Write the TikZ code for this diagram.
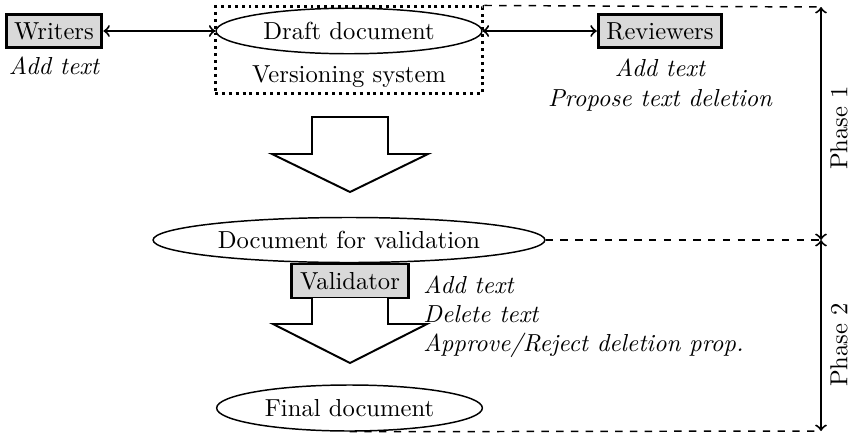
\documentclass[tikz,border=0pt]{standalone}
\usetikzlibrary{shapes.geometric}
\begin{document}
\begin{tikzpicture}[x=0.4065pt,y=-0.4065pt,
  actor/.style={draw,very thick,fill=gray!30,inner sep=3.33pt},
  doc/.style={draw,semithick,ellipse,inner sep=0pt},
  note/.style={font=\itshape,anchor=base,inner sep=0pt},
  link/.style={thick,<->},
  phase/.style={thick,<->},
  guide/.style={dashed,semithick},
  bigarrow/.style={thick,fill=white,line join=miter}]
\useasboundingbox (0,0) rectangle (850,434);

% Phase 1
\node[actor] (writers) at (54,31) {Writers};
\node[note] (wnote) at (54,74) {Add text};
\node[doc,minimum width=108.1pt,minimum height=18.5pt] (draft) at (349,31) {Draft document};
\node[anchor=base,inner sep=0pt] (vers) at (349,82) {Versioning system};
\node[draw,line width=1.2pt,dash pattern=on 1.2pt off 1.6pt,minimum width=108.9pt,minimum height=35pt,inner sep=0pt] (sys) at (349,50) {};
\node[actor] (reviewers) at (660,31) {Reviewers};
\node[note] (r1) at (660,76) {Add text};
\node[note] (r2) at (660,106) {Propose text deletion};

\coordinate (p1) at (821,7);
\coordinate (pm) at (821,240);
\coordinate (p2) at (821,431);

\draw[link] (writers.east) -- (draft.west);
\draw[link] (draft.east) -- (reviewers.west);

\draw[guide] (sys.north east) -- (p1);
\draw[phase] (p1) -- (pm);
\draw[phase] (pm) -- (p2);
\node[rotate=90] (ph1) at (839,128) {Phase 1};
\node[rotate=90] (ph2) at (839,345) {Phase 2};

\draw[bigarrow] (312,117) -- (388,117) -- (388,154) -- (428,154) -- (350,192) -- (272,154) -- (312,154) -- cycle;

% Phase 2
\node[doc,minimum width=159.3pt,minimum height=18.3pt] (valid) at (349,240) {Document for validation};
\draw[guide] (valid.east) -- (pm);

\node[actor] (validator) at (350,281) {Validator};
\draw[bigarrow] (312,298) -- (312,324) -- (273,324) -- (350,363) -- (427,324) -- (388,324) -- (388,298);

\node[note,anchor=base west] (v1) at (423,293) {Add text};
\node[note,anchor=base west] (v2) at (423,322) {Delete text};
\node[note,anchor=base west] (v3) at (423,351) {Approve/Reject deletion prop.};

\node[doc,minimum width=108pt,minimum height=18.7pt] (final) at (349.5,408) {Final document};
\draw[guide] (final.south) -- (p2);
\end{tikzpicture}
\end{document}
